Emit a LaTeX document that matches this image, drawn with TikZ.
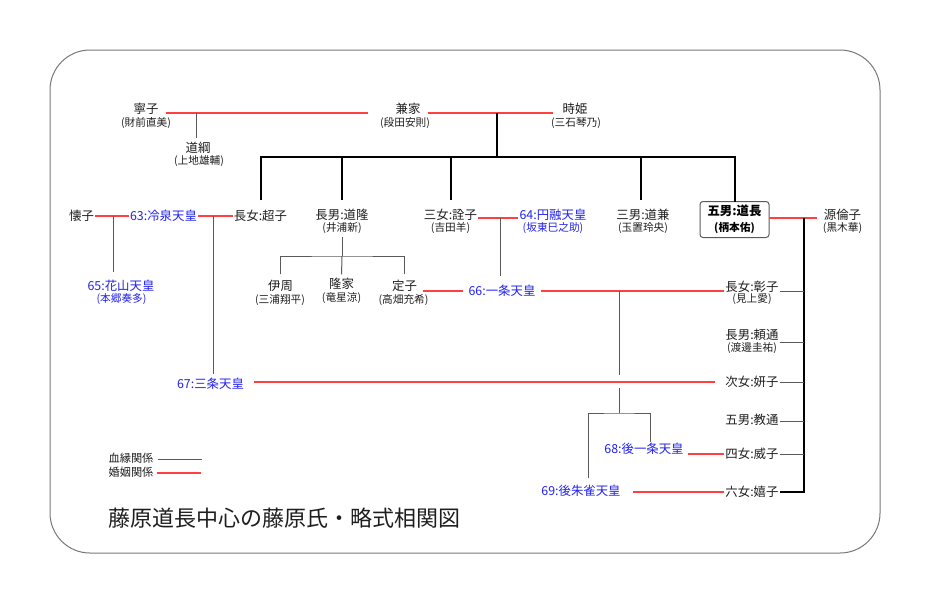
\documentclass[tikz,border=0pt]{standalone}
\usepackage{fontspec}
\setmainfont{Noto Sans CJK JP}
\definecolor{txtc}{RGB}{30,30,30}
\definecolor{empc}{RGB}{34,34,238}
\definecolor{marrc}{RGB}{255,64,64}
\definecolor{bloodc}{RGB}{90,90,90}
\definecolor{framec}{RGB}{120,120,120}
\begin{document}
\begin{tikzpicture}[x=0.75pt,y=-0.75pt,
  nm/.style={inner sep=1pt, outer sep=0pt, font=\fontsize{9.3}{11}\selectfont, text=txtc},
  subt/.style={inner sep=1pt, outer sep=0pt, font=\fontsize{8}{9}\selectfont, text=txtc},
  emp/.style={nm, text=empc},
  emps/.style={subt, text=empc},
  leg/.style={inner sep=1pt, outer sep=0pt, font=\fontsize{8.4}{9}\selectfont, text=txtc},
  marr/.style={draw=marrc, line width=0.9pt},
  blood/.style={draw=bloodc, line width=0.75pt},
  mainl/.style={draw=black, line width=1.5pt},
  famebox/.style={draw=bloodc, line width=0.75pt, rounded corners=2.25pt, minimum width=51.75pt, minimum height=27pt, align=center, inner sep=1pt, outer sep=0pt, text=black}
]
\useasboundingbox (0,0) rectangle (931,604);
\draw[framec, line width=0.75pt, rounded corners=30pt] (50,50) rectangle (880,553);

% generation 1
\node[nm] (neiko) at (146,109) {寧子};
\node[subt] (neikoS) at (146,123) {(財前直美)};
\node[nm] (michitsuna) at (198,148) {道綱};
\node[subt] (michitsunaS) at (199,161) {(上地雄輔)};
\node[nm] (kaneie) at (408,109) {兼家};
\node[subt] (kaneieS) at (405,123) {(段田安則)};
\node[nm] (tokihime) at (575,109) {時姫};
\node[subt] (tokihimeS) at (576,123) {(三石琴乃)};

% generation 2
\node[nm] (kaishi) at (81.5,216) {懐子};
\node[emp] (reizei) at (163.5,216) {63:冷泉天皇};
\node[nm] (choshi) at (260.5,216) {長女:超子};
\node[nm] (michitaka) at (342,215) {長男:道隆};
\node[subt] (michitakaS) at (342,228) {(井浦新)};
\node[nm] (senshi) at (450.5,215) {三女:詮子};
\node[subt] (senshiS) at (450.5,228) {(吉田羊)};
\node[emp] (enyu) at (553,215) {64:円融天皇};
\node[emps] (enyuS) at (553,228) {(坂東巳之助)};
\node[nm] (michikane) at (643,215) {三男:道兼};
\node[subt] (michikaneS) at (643,228) {(玉置玲央)};
\node[famebox] (michinaga) at (734.5,219.5) {{\fontsize{9.3}{13}\selectfont\bfseries 五男:道長}\\{\fontsize{8}{9}\selectfont\bfseries (柄本佑)}};
\node[nm] (rinshi) at (842.5,215) {源倫子};
\node[subt] (rinshiS) at (842.5,228) {(黒木華)};

% generation 3
\node[emp] (kazan) at (121,286) {65:花山天皇};
\node[emps] (kazanS) at (121.5,299) {(本郷奏多)};
\node[nm] (korechika) at (280.5,286) {伊周};
\node[subt] (korechikaS) at (280,300) {(三浦翔平)};
\node[nm] (takaie) at (341.5,284) {隆家};
\node[subt] (takaieS) at (341.5,298) {(竜星涼)};
\node[nm] (teishi) at (404.5,286) {定子};
\node[subt] (teishiS) at (403.5,300) {(高畑充希)};
\node[emp] (ichijo) at (502,291) {66:一条天皇};
\node[emp] (sanjo) at (210.5,384) {67:三条天皇};
\node[nm] (shoshi) at (752,287) {長女:彰子};
\node[subt] (shoshiS) at (752,299) {(見上愛)};
\node[nm] (yorimichi) at (752,335) {長男:頼通};
\node[subt] (yorimichiS) at (752,348) {(渡邊圭祐)};
\node[nm] (kenshi) at (752,382) {次女:妍子};
\node[nm] (norimichi) at (752,420) {五男:教通};
\node[nm] (ishi) at (752,454) {四女:威子};
\node[nm] (kishi) at (752,492) {六女:嬉子};
\node[emp] (goichijo) at (644,449) {68:後一条天皇};
\node[emp] (gosuzaku) at (581,491) {69:後朱雀天皇};

% junctions
\coordinate (mNK) at (196,113);
\coordinate (mKT) at (497,113);
\coordinate (bHub) at (497,157);
\coordinate (mKR) at (113,216);
\coordinate (mRC) at (213,216);
\coordinate (mSE) at (500,218);
\coordinate (mMR) at (804,218);
\coordinate (trunkB) at (804,492);
\coordinate (bTaka) at (342,256);
\coordinate (mIS) at (619,291);
\coordinate (jumpA) at (619,375);
\coordinate (jumpB) at (619,388);
\coordinate (bSplit) at (619,413);

% marriage lines
\draw[marr, shorten <=4.5pt, shorten >=19.5pt] (neiko.east |- mNK) -- (kaneie.west |- mNK);
\draw[marr, shorten <=4.5pt, shorten >=6pt] (kaneie.east |- mKT) -- (tokihime.west |- mKT);
\draw[marr] (kaishi.east) -- (reizei.west);
\draw[marr] (reizei.east) -- (choshi.west);
\draw[marr] (senshi.east |- mSE) -- (enyu.west |- mSE);
\draw[marr, shorten >=4.3pt] (michinaga.east |- mMR) -- (rinshi.west |- mMR);
\draw[marr, shorten <=3.5pt, shorten >=3pt] (teishi.east |- ichijo) -- (ichijo.west);
\draw[marr, shorten <=3pt] (ichijo.east) -- (ichijo.east -| shoshi.west);
\draw[marr, shorten <=6.5pt, shorten >=6.8pt] (sanjo.east |- kenshi) -- (kenshi.west);
\draw[marr, shorten <=2.2pt] (goichijo.east |- ishi) -- (ishi.west);
\draw[marr, shorten <=8.2pt] (gosuzaku.east |- kishi) -- (kishi.west);

% main lineage (thick)
\draw[mainl] (mKT) -- (bHub);
\draw[mainl, shorten <=6.4pt] (choshi.north) |- (bHub) -| (michinaga.north);
\draw[mainl, shorten <=6pt] (michitaka.north) -- (michitaka.north |- bHub);
\draw[mainl, shorten <=6pt] (senshi.north) -- (senshi.north |- bHub);
\draw[mainl, shorten <=6pt] ([xshift=-1.5pt]michikane.north) -- ([xshift=-1.5pt]michikane.north |- bHub);
\draw[draw=black, line width=1.9pt] (mMR) -- (trunkB) -- (kishi.east);

% blood lines
\draw[blood, shorten >=1.9pt] (mNK) -- (mNK |- michitsuna.north);
\draw[blood, shorten >=4.9pt] (mKR) -- (mKR |- kazan.north);
\draw[blood, shorten >=1.9pt] (mRC) -- (mRC |- sanjo.north);
\draw[blood, shorten <=1.5pt] (michitakaS.south) -- (bTaka);
\draw[blood, shorten <=3.4pt, shorten >=3.4pt] (korechika.north) |- (bTaka) -| (teishi.north);
\draw[blood, shorten >=1.9pt] (bTaka) -- (takaie.north);
\draw[blood, shorten >=5.6pt] (mSE) -- (mSE |- ichijo.north);
\draw[blood] (mIS) -- (jumpA);
\draw[blood] (jumpB) -- (bSplit);
\draw[blood, shorten <=4.1pt] ([xshift=5.25pt]gosuzaku.north) |- (bSplit) -| ([xshift=4.5pt]goichijo.north);
\draw[blood] ([yshift=-3pt]shoshi.east) -- ([yshift=-3pt]shoshi.east -| mMR);
\draw[blood] ([yshift=-5.25pt]yorimichi.east) -- ([yshift=-5.25pt]yorimichi.east -| mMR);
\draw[blood] (kenshi.east) -- (kenshi.east -| mMR);
\draw[blood] ([yshift=-0.75pt]norimichi.east) -- ([yshift=-0.75pt]norimichi.east -| mMR);
\draw[blood] (ishi.east) -- (ishi.east -| mMR);

% legend
\node[leg] (legBlood) at (131,458) {血縁関係};
\node[leg] (legMarr) at (131,472) {婚姻関係};
\coordinate (legBloodEnd) at (202,459);
\coordinate (legMarrEnd) at (201,473);
\draw[blood, shorten <=2.4pt] (legBlood.east |- legBloodEnd) -- (legBloodEnd);
\draw[marr, shorten <=1.6pt] (legMarr.east |- legMarrEnd) -- (legMarrEnd);

% title
\node[anchor=west, inner sep=1pt, text=txtc, font=\fontsize{16.5}{18}\selectfont] (title) at (107,518) {藤原道長中心の藤原氏・略式相関図};
\end{tikzpicture}
\end{document}
